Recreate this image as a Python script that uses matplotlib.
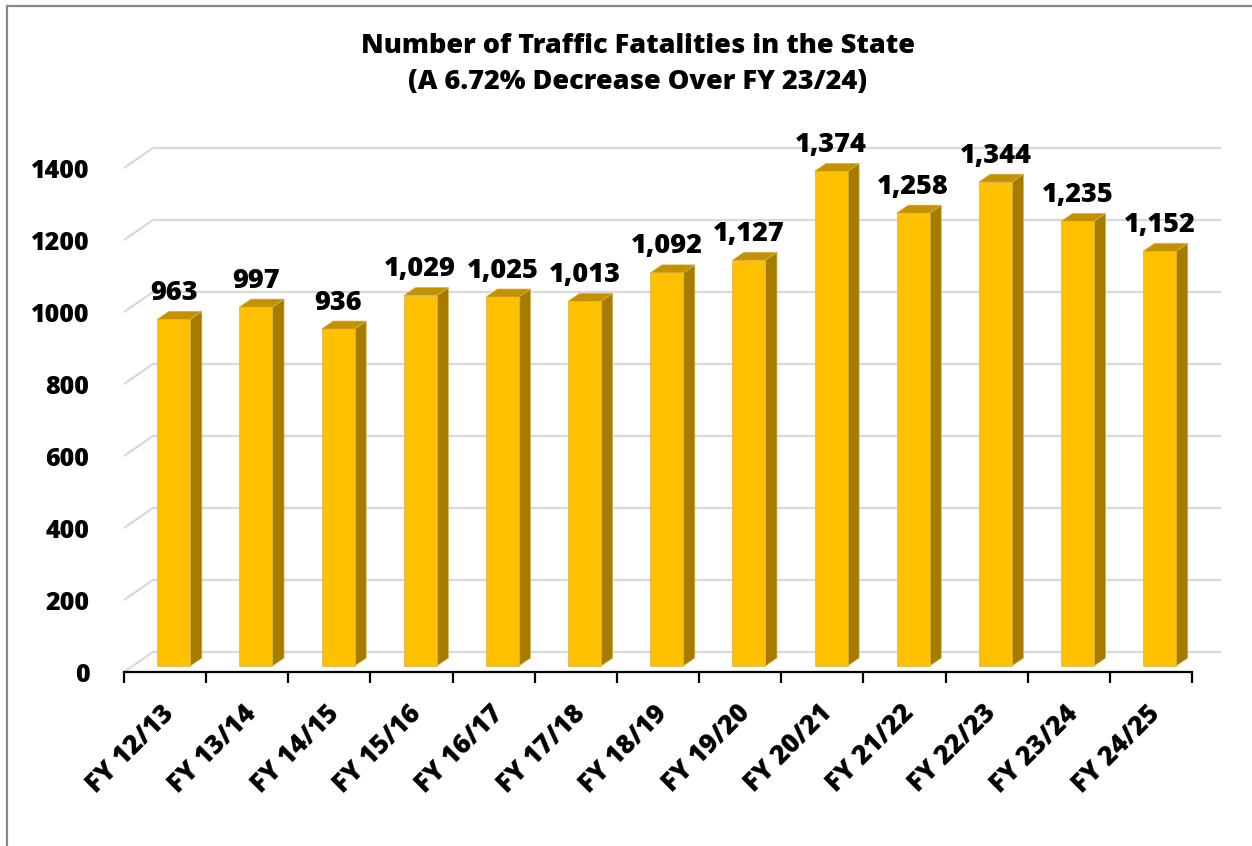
import numpy as np
import matplotlib
matplotlib.use("Agg")
import matplotlib.pyplot as plt
from matplotlib.patches import Polygon, Rectangle
from matplotlib.lines import Line2D

years = ["FY 12/13", "FY 13/14", "FY 14/15", "FY 15/16", "FY 16/17", "FY 17/18",
         "FY 18/19", "FY 19/20", "FY 20/21", "FY 21/22", "FY 22/23", "FY 23/24", "FY 24/25"]
fatalities = [963, 997, 936, 1029, 1025, 1013, 1092, 1127, 1374, 1258, 1344, 1235, 1152]
y_ticks = [0, 200, 400, 600, 800, 1000, 1200, 1400]

title = "Number of Traffic Fatalities in the State\n(A 6.72% Decrease Over FY 23/24)"

W, H = 1252, 846
plt.rcParams["font.family"] = ["Open Sans", "DejaVu Sans"]
BOLD = 800
fig = plt.figure(figsize=(W / 100, H / 100), dpi=100)

# front plane of the 3d box, in pixels
left, right, base, top = 124, 1192, 672, 168
ax = fig.add_axes([left / W, (H - base) / H, (right - left) / W, (base - top) / H])
n = len(years)
ax.set_xlim(0, n)
ax.set_ylim(0, 1400)
for s in ax.spines.values():
    s.set_visible(False)

px_x = (right - left) / n
px_y = (base - top) / 1400
DX = 29 / px_x   # depth offset in data units
DY = 20 / px_y

grid_col = "#D9D9D9"
for v in y_ticks:
    ax.plot([0, DX], [v, v + DY], color=grid_col, lw=1.6, clip_on=False, zorder=1,
            solid_capstyle="butt")
    ax.plot([DX, n + DX], [v + DY, v + DY], color=grid_col, lw=1.6, clip_on=False, zorder=1,
            solid_capstyle="butt")

# front floor axis
ax.plot([0, n], [0, 0], color="black", lw=1.6, clip_on=False, zorder=3)
ax.set_xticks(np.arange(n + 1))
ax.set_xticklabels([])
ax.tick_params(axis="x", length=8, width=1.6, color="black")
ax.set_yticks(y_ticks)
ax.set_yticklabels([str(v) for v in y_ticks], fontsize=18, fontweight=BOLD)
ax.tick_params(axis="y", length=0, pad=25)

# bars
w = 33 / px_x
f0, f1 = 0.3, 0.7
front_c, side_c, top_c = "#FFC000", "#A67C00", "#C49100"
edge = "#D8B24A"
for i, v in enumerate(fatalities):
    c = i + 0.5
    x0 = c - w / 2 + f0 * DX
    x1 = c + w / 2 + f0 * DX
    y0 = f0 * DY
    ax.add_patch(Polygon([(x1, y0), (x1 + (f1 - f0) * DX, f1 * DY),
                          (x1 + (f1 - f0) * DX, v + f1 * DY), (x1, v + y0)],
                         closed=True, fc=side_c, ec=edge, lw=0.5, zorder=4, clip_on=False))
    ax.add_patch(Polygon([(x0, v + y0), (x1, v + y0),
                          (x1 + (f1 - f0) * DX, v + f1 * DY), (x0 + (f1 - f0) * DX, v + f1 * DY)],
                         closed=True, fc=top_c, ec=edge, lw=0.5, zorder=4, clip_on=False))
    ax.add_patch(Rectangle((x0, y0), w, v, fc=front_c, ec=edge, lw=0.5, zorder=5, clip_on=False))
    ax.annotate(f"{v:,}", xy=((x0 + x1) / 2, v + y0), xytext=(0, 14), textcoords="offset points",
                ha="center", va="baseline", fontsize=19.5, fontweight=BOLD, zorder=6,
                annotation_clip=False)

for i, lab in enumerate(years):
    ax.annotate(lab, xy=(i + 0.5, 0), xytext=(4, -27), textcoords="offset points",
                rotation=45, rotation_mode="anchor", ha="right", va="center",
                fontsize=19, fontweight=BOLD, annotation_clip=False)

fig.text(638 / W, 1 - 64 / H, title, ha="center", va="center", fontsize=19.5,
         fontweight=BOLD, linespacing=1.5)

# chart frame (left and top edges visible)
fig.add_artist(Line2D([7 / W, 7 / W], [0, 1 - 6 / H], color="#888888", lw=1.6))
fig.add_artist(Line2D([7 / W, 1], [1 - 6 / H, 1 - 6 / H], color="#888888", lw=1.6))

fig.savefig("out.png", dpi=100)
